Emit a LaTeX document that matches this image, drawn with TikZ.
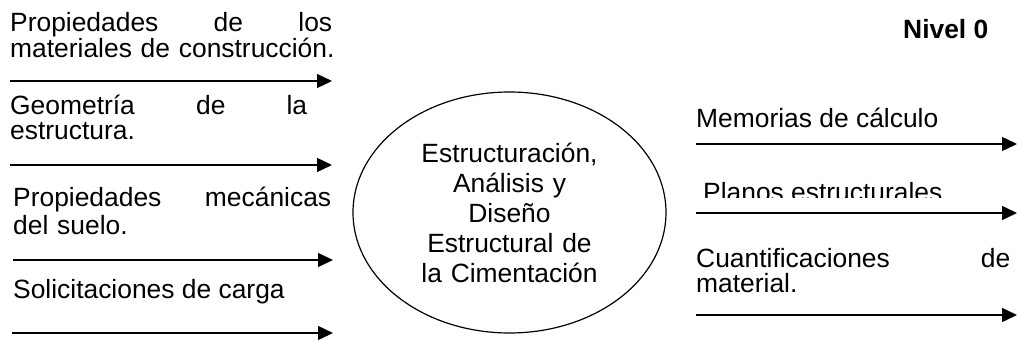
\documentclass[tikz,border=0pt]{standalone}
\usepackage{fontspec}
\setmainfont{Liberation Sans}
\usetikzlibrary{arrows.meta,shapes.geometric}

\begin{document}
\begin{tikzpicture}[x=1pt,y=-1pt,
  txt/.style={inner sep=0pt, anchor=base west, align=left, font=\fontsize{26.4}{26}\selectfont},
  lsk/.style={execute at begin node={\setlength{\baselineskip}{#1}}, execute at end node={\endgraf}},
  flow/.style={-{Triangle[length=15pt,width=14pt]}, line width=1.4pt}]
  \useasboundingbox (0,0) rectangle (1018,342);
  \node[txt, text width=340pt, lsk=26pt] (in1) at (10,32) {\hbox to 322pt{Propiedades\hfill de\hfill los}\\materiales de construcción.};
  \node[txt, text width=340pt, lsk=25pt] (in2) at (10,115) {\hbox to 297pt{Geometría\hfill de\hfill la}\\estructura.};
  \node[txt, text width=340pt, lsk=28pt] (in3) at (13,207) {\hbox to 318pt{Propiedades\hfill mecánicas}\\del suelo.};
  \node[txt] (in4) at (13,298) {Solicitaciones de carga};
  \coordinate (a1s) at (10,81);  \coordinate (a1e) at (332,81);
  \coordinate (a2s) at (10,165); \coordinate (a2e) at (332,165);
  \coordinate (a3s) at (13,260); \coordinate (a3e) at (333,260);
  \coordinate (a4s) at (12,333); \coordinate (a4e) at (333,333);
  \draw[flow] (a1s) -- (a1e);
  \draw[flow] (a2s) -- (a2e);
  \draw[flow] (a3s) -- (a3e);
  \draw[flow] (a4s) -- (a4e);
  \node[ellipse, draw, line width=1.2pt, minimum width=313pt, minimum height=241pt, inner sep=0pt,
    text width=190pt, align=center, lsk=30pt, font=\fontsize{26.4}{30}\selectfont] (proc) at (509.5,212.5)
    {Estructuración,\\Análisis y\\Diseño\\Estructural de\\la Cimentación};
  \node[txt, font=\bfseries\fontsize{26.4}{26}\selectfont] (lvl) at (903,39) {Nivel 0};
  \node[txt] (out1) at (696,128) {Memorias de cálculo};
  \begin{scope}
    \clip (690,170) rectangle (1018,198);
    \node[txt] (out2) at (703,201) {Planos estructurales.};
  \end{scope}
  \node[txt, text width=320pt, lsk=25pt] (out3) at (696,267) {\hbox to 314pt{Cuantificaciones\hfill de}\\material.};
  \coordinate (b1s) at (696,144); \coordinate (b1e) at (1017,144);
  \coordinate (b2s) at (696,213); \coordinate (b2e) at (1017,213);
  \coordinate (b3s) at (696,315); \coordinate (b3e) at (1017,315);
  \draw[flow] (b1s) -- (b1e);
  \draw[flow] (b2s) -- (b2e);
  \draw[flow] (b3s) -- (b3e);
\end{tikzpicture}
\end{document}
